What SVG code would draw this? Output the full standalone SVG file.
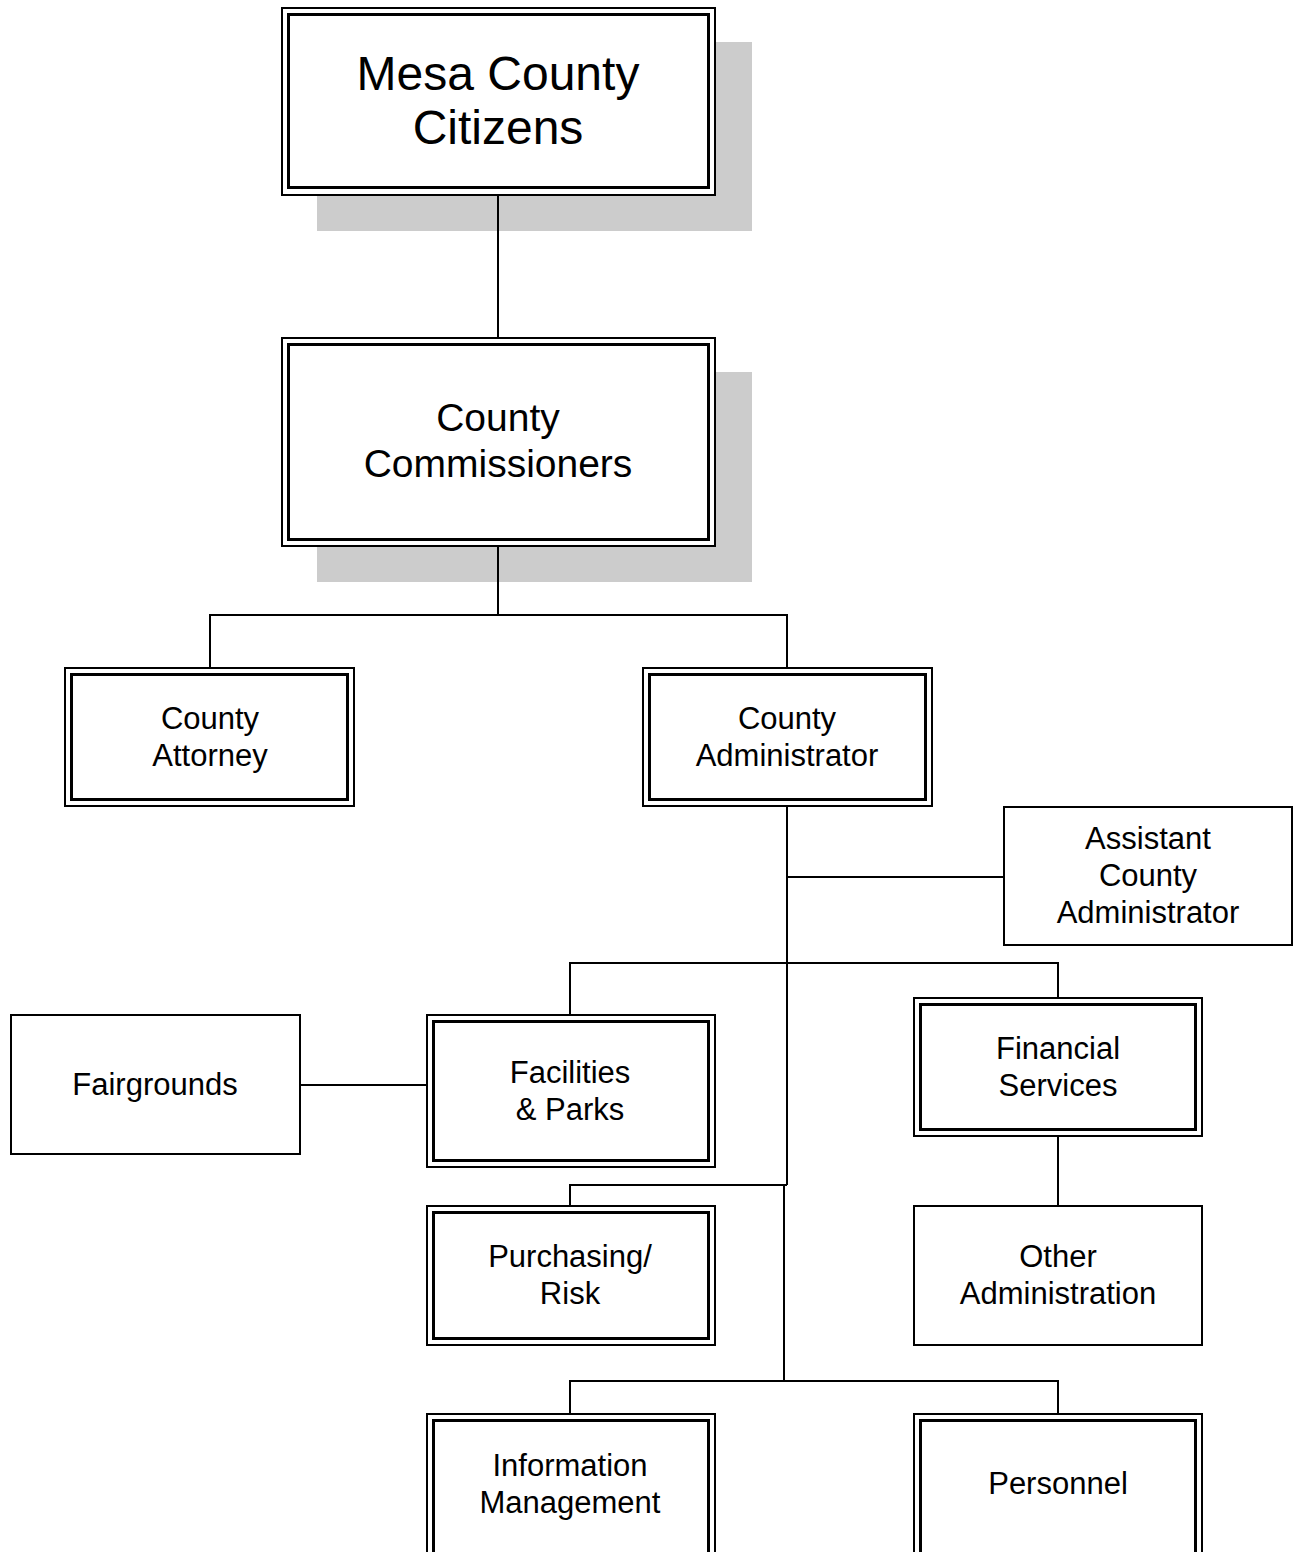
<svg xmlns="http://www.w3.org/2000/svg" width="1299" height="1552" viewBox="0 0 1299 1552">
<style>
.bg{fill:#ffffff}
.shadow{fill:#cccccc}
.outer{fill:#ffffff;stroke:#000000;stroke-width:2}
.inner{fill:none;stroke:#000000;stroke-width:3}
.single{fill:#ffffff;stroke:#000000;stroke-width:2}
.conn{fill:none;stroke:#000000;stroke-width:2}
text{font-family:"Liberation Sans",Arial,sans-serif;fill:#000000;text-anchor:middle}
.t48{font-size:48px}
.t39{font-size:39px}
.t31{font-size:31px}
</style>
<rect class="bg" x="0" y="0" width="1299" height="1552"/>
<g id="shadows">
<rect class="shadow" x="317" y="42" width="435" height="189"/>
<rect class="shadow" x="317" y="372" width="435" height="210"/>
</g>
<g id="connectors">
<path class="conn" d="M498,195 V338"/>
<path class="conn" d="M498,546 V615"/>
<path class="conn" d="M210,668 V615 H787 V668"/>
<path class="conn" d="M787,806 V1185"/>
<path class="conn" d="M787,877 H1004"/>
<path class="conn" d="M570,1015 V963 H1058 V998"/>
<path class="conn" d="M300,1085 H427"/>
<path class="conn" d="M1058,1136 V1206"/>
<path class="conn" d="M570,1206 V1185 H787"/>
<path class="conn" d="M784,1185 V1381"/>
<path class="conn" d="M570,1414 V1381 H1058 V1414"/>
</g>
<g id="mesa-county-citizens">
<rect class="outer" x="282" y="8" width="433" height="187"/>
<rect class="inner" x="288.5" y="14.5" width="420" height="173"/>
<text class="t48" x="498" y="90">Mesa County</text>
<text class="t48" x="498" y="144">Citizens</text>
</g>
<g id="county-commissioners">
<rect class="outer" x="282" y="338" width="433" height="208"/>
<rect class="inner" x="288.5" y="344.5" width="420" height="195"/>
<text class="t39" x="498" y="431">County</text>
<text class="t39" x="498" y="477">Commissioners</text>
</g>
<g id="county-attorney">
<rect class="outer" x="65" y="668" width="289" height="138"/>
<rect class="inner" x="71.5" y="674.5" width="276" height="125"/>
<text class="t31" x="210" y="729">County</text>
<text class="t31" x="210" y="766">Attorney</text>
</g>
<g id="county-administrator">
<rect class="outer" x="643" y="668" width="289" height="138"/>
<rect class="inner" x="649.5" y="674.5" width="276" height="125"/>
<text class="t31" x="787" y="729">County</text>
<text class="t31" x="787" y="766">Administrator</text>
</g>
<g id="assistant-county-administrator">
<rect class="single" x="1004" y="807" width="288" height="138"/>
<text class="t31" x="1148" y="849">Assistant</text>
<text class="t31" x="1148" y="886">County</text>
<text class="t31" x="1148" y="923">Administrator</text>
</g>
<g id="fairgrounds">
<rect class="single" x="11" y="1015" width="289" height="139"/>
<text class="t31" x="155" y="1095">Fairgrounds</text>
</g>
<g id="facilities-parks">
<rect class="outer" x="427" y="1015" width="288" height="152"/>
<rect class="inner" x="433.5" y="1021.5" width="275" height="139"/>
<text class="t31" x="570" y="1083">Facilities</text>
<text class="t31" x="570" y="1120">&amp; Parks</text>
</g>
<g id="financial-services">
<rect class="outer" x="914" y="998" width="288" height="138"/>
<rect class="inner" x="920.5" y="1004.5" width="275" height="125"/>
<text class="t31" x="1058" y="1059">Financial</text>
<text class="t31" x="1058" y="1096">Services</text>
</g>
<g id="purchasing-risk">
<rect class="outer" x="427" y="1206" width="288" height="139"/>
<rect class="inner" x="433.5" y="1212.5" width="275" height="126"/>
<text class="t31" x="570" y="1267">Purchasing/</text>
<text class="t31" x="570" y="1304">Risk</text>
</g>
<g id="other-administration">
<rect class="single" x="914" y="1206" width="288" height="139"/>
<text class="t31" x="1058" y="1267">Other</text>
<text class="t31" x="1058" y="1304">Administration</text>
</g>
<g id="information-management">
<rect class="outer" x="427" y="1414" width="288" height="150"/>
<rect class="inner" x="433.5" y="1420.5" width="275" height="150"/>
<text class="t31" x="570" y="1476">Information</text>
<text class="t31" x="570" y="1513">Management</text>
</g>
<g id="personnel">
<rect class="outer" x="914" y="1414" width="288" height="150"/>
<rect class="inner" x="920.5" y="1420.5" width="275" height="150"/>
<text class="t31" x="1058" y="1494">Personnel</text>
</g>
</svg>
